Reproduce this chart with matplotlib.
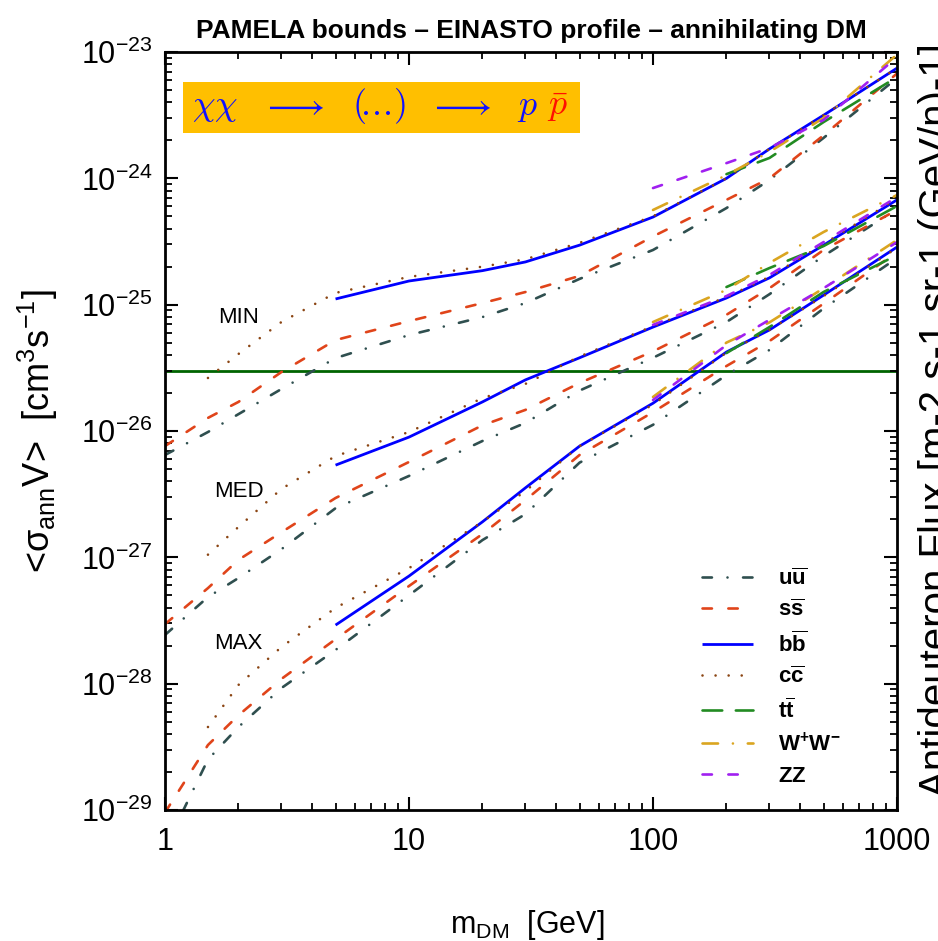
import numpy as np
import matplotlib
matplotlib.use('Agg')
import matplotlib.pyplot as plt
from matplotlib import ticker
from matplotlib.patches import Rectangle

plt.rcParams['font.family'] = ['Liberation Sans', 'DejaVu Sans']
plt.rcParams['mathtext.fontset'] = 'custom'
plt.rcParams['mathtext.rm'] = 'Liberation Sans'
plt.rcParams['mathtext.it'] = 'Liberation Sans:italic'
plt.rcParams['mathtext.bf'] = 'Liberation Sans:bold'
plt.rcParams['lines.scale_dashes'] = False

# DM masses [GeV]
light_masses = [1, 1.5, 2, 3, 5, 10, 20, 30, 50, 100, 200, 300, 500, 1000]
cc_masses = [1.5, 2, 3, 5, 10, 20, 30, 50, 100, 200, 300, 500, 1000]
bb_masses = [5, 10, 20, 30, 50, 100, 200, 300, 500, 1000]
gauge_masses = [100, 200, 300, 500, 1000]
tt_masses = [200, 300, 500, 1000]

# <sigma v> bounds [cm^3 s^-1], MIN / MED / MAX propagation
uu_min = [6.46e-27, 9.82e-27, 1.36e-26, 2.15e-26, 3.78e-26, 5.75e-26, 7.98e-26,
          1.03e-25, 1.60e-25, 2.71e-25, 5.82e-25, 9.70e-25, 2.09e-24, 6.22e-24]
uu_med = [2.43e-28, 4.85e-28, 6.86e-28, 1.16e-27, 2.45e-27, 4.41e-27, 8.34e-27,
          1.16e-26, 2.09e-26, 3.80e-26, 7.29e-26, 1.21e-25, 2.43e-25, 5.71e-25]
uu_max = [5.01e-30, 2.51e-29, 4.54e-29, 9.23e-29, 1.85e-28, 5.01e-28, 1.37e-27,
          2.20e-27, 5.62e-27, 1.12e-26, 2.77e-26, 4.38e-26, 9.33e-26, 2.34e-25]

ss_min = [7.60e-27, 1.27e-26, 1.70e-26, 2.93e-26, 5.25e-26, 7.41e-26, 1.03e-25,
          1.26e-25, 1.69e-25, 3.47e-25, 6.76e-25, 1.00e-24, 2.19e-24, 6.76e-24]
ss_med = [2.96e-28, 5.71e-28, 9.55e-28, 1.58e-27, 2.95e-27, 5.69e-27, 1.11e-26,
          1.47e-26, 2.40e-26, 4.27e-26, 8.32e-26, 1.35e-25, 2.71e-25, 5.62e-25]
ss_max = [9.55e-30, 3.27e-29, 5.62e-29, 1.09e-28, 2.25e-28, 5.93e-28, 1.53e-27,
          2.84e-27, 6.46e-27, 1.41e-26, 3.27e-26, 5.15e-26, 1.02e-25, 2.61e-25]

bb_min = [1.11e-25, 1.54e-25, 1.86e-25, 2.18e-25, 2.96e-25, 4.94e-25, 1.00e-24,
          1.71e-24, 3.16e-24, 7.46e-24]
bb_med = [5.37e-27, 8.95e-27, 1.70e-26, 2.54e-26, 3.80e-26, 6.65e-26, 1.13e-25,
          1.63e-25, 2.96e-25, 6.76e-25]
bb_max = [2.91e-28, 7.11e-28, 1.91e-27, 3.55e-27, 7.59e-27, 1.66e-26, 4.22e-26,
          6.31e-26, 1.19e-25, 2.86e-25]

cc_min = [2.63e-26, 4.07e-26, 7.29e-26, 1.24e-25, 1.66e-25, 2.00e-25, 2.29e-25,
          3.09e-25, 5.01e-25, 1.00e-24, 1.71e-24, 3.16e-24, 7.46e-24]
cc_med = [1.05e-27, 1.74e-27, 3.48e-27, 6.34e-27, 9.82e-27, 1.82e-26, 2.36e-26,
          3.89e-26, 6.76e-26, 1.15e-25, 1.66e-25, 3.02e-25, 6.92e-25]
cc_max = [4.54e-29, 9.77e-29, 1.95e-28, 3.98e-28, 8.22e-28, 1.91e-27, 3.35e-27,
          7.59e-27, 1.62e-26, 4.17e-26, 6.31e-26, 1.17e-25, 2.82e-25]

tt_min = [1.08e-24, 1.45e-24, 2.79e-24, 6.34e-24]
tt_med = [1.38e-25, 1.95e-25, 2.91e-25, 6.04e-25]
tt_max = [4.14e-26, 6.65e-26, 1.26e-25, 2.47e-25]

ww_min = [5.62e-25, 1.06e-24, 1.62e-24, 3.01e-24, 9.55e-24]
ww_med = [7.29e-26, 1.31e-25, 2.14e-25, 3.76e-25, 7.38e-25]
ww_max = [1.86e-26, 5.01e-26, 7.24e-26, 1.35e-25, 3.25e-25]

zz_min = [8.38e-25, 1.32e-24, 1.74e-24, 2.90e-24, 9.12e-24]
zz_med = [6.92e-26, 1.17e-25, 1.72e-25, 3.13e-25, 7.11e-25]
zz_max = [1.76e-26, 4.79e-26, 7.59e-26, 1.35e-25, 3.13e-25]

thermal_xsec = 3e-26
x_ticks = [1, 10, 100, 1000]

channels = [
    (r'$\mathbf{u\overline{u}}$', light_masses, [uu_min, uu_med, uu_max], '#2f4f4f', (0, (6.8, 11.2, 0.01, 11.2))),
    (r'$\mathbf{s\overline{s}}$', light_masses, [ss_min, ss_med, ss_max], '#e0441a', (0, (6.8, 11.8))),
    (r'$\mathbf{b\overline{b}}$', bb_masses, [bb_min, bb_med, bb_max], '#0000ff', '-'),
    (r'$\mathbf{c\overline{c}}$', cc_masses, [cc_min, cc_med, cc_max], '#8b4513', (0, (0.01, 9.4))),
    (r'$\mathbf{t\overline{t}}$', tt_masses, [tt_min, tt_med, tt_max], '#228b22', (0, (14.2, 9.8))),
    (r'$\mathbf{W^{+}W^{-}}$', gauge_masses, [ww_min, ww_med, ww_max], '#daa520', (0, (11.2, 10.7, 0.01, 10.7))),
    (r'$\mathbf{ZZ}$', gauge_masses, [zz_min, zz_med, zz_max], '#a020f0', (0, (6.8, 11.8))),
]

fig = plt.figure(figsize=(9.38, 9.41), dpi=100)
ax = fig.add_axes([0.1759, 0.1392, 0.7804, 0.8055])

ax.axhline(thermal_xsec, color='#006400', lw=2.0, zorder=1)

for label, masses, sets, color, ls in channels:
    for i, vals in enumerate(sets):
        ax.plot(masses, vals, color=color, linestyle=ls, lw=2.0 if ls == '-' else 1.9,
                dash_capstyle='round', solid_capstyle='butt',
                label=label if i == 0 else None, zorder=2)

ax.set_xscale('log')
ax.set_yscale('log')
ax.set_xlim(1, 1000)
ax.set_ylim(1e-29, 1e-23)

ax.xaxis.set_major_locator(ticker.FixedLocator(x_ticks))
ax.xaxis.set_major_formatter(ticker.FuncFormatter(lambda v, pos: '%g' % v))
ax.xaxis.set_minor_locator(ticker.LogLocator(base=10, subs=np.arange(2, 10), numticks=100))
ax.yaxis.set_minor_locator(ticker.LogLocator(base=10, subs=np.arange(2, 10), numticks=100))
ax.xaxis.set_minor_formatter(ticker.NullFormatter())
ax.yaxis.set_minor_formatter(ticker.NullFormatter())

ax.tick_params(which='both', direction='in', top=True, right=True, labelsize=22)
ax.tick_params(which='major', length=9.5, width=1.5)
ax.tick_params(which='minor', length=5, width=1.3)
ax.tick_params(axis='x', which='major', pad=12)
ax.tick_params(axis='y', which='major', pad=9)
for sp in ax.spines.values():
    sp.set_linewidth(2.0)

ax.set_title('PAMELA bounds – EINASTO profile – annihilating DM',
             fontsize=19, fontweight='bold', pad=10)
ax.set_xlabel(r'm$_{\rm DM}$  [GeV]', fontsize=22, va='center')
ax.xaxis.set_label_coords(0.4945, -0.152)
ax.set_ylabel(r'<σ$_{\rm ann}$V>  [cm$^3$s$^{-1}$]', fontsize=26, va='center')
ax.yaxis.set_label_coords(-0.1735, 0.50)

# propagation model labels
ax.text(2.0, 10**-25.1, 'MIN', fontsize=16, ha='center', va='center')
ax.text(2.0, 10**-26.48, 'MED', fontsize=16, ha='center', va='center')
ax.text(2.0, 10**-27.68, 'MAX', fontsize=16, ha='center', va='center')

# channel box
ax.add_patch(Rectangle((0.0246, 0.8931), 0.5424, 0.0673, transform=ax.transAxes,
                       facecolor='#ffbf00', edgecolor='none', zorder=3))
base_y = 0.9169
pieces = [(r'$\chi\chi$', 0.0369), (r'$\longrightarrow$', 0.1310), (r'$(\!.\!.\!.\!)$', 0.2555),
          (r'$\longrightarrow$', 0.3596), (r'$p$', 0.4809)]
for s, xp in pieces:
    ax.text(xp, base_y, s, transform=ax.transAxes, fontsize=26, color='#1010ff',
            math_fontfamily='cm', ha='left', va='baseline', zorder=4)
ax.text(0.5219, base_y, r'$\bar{p}$', transform=ax.transAxes, fontsize=26, color='#ff1000',
        math_fontfamily='cm', ha='left', va='baseline', zorder=4)

ax.legend(loc='upper left', bbox_to_anchor=(0.7336, 0.319), frameon=False,
          prop={'size': 16, 'weight': 'bold'}, handlelength=2.3, handletextpad=1.1,
          labelspacing=0.45, borderpad=0, borderaxespad=0)

# neighbouring panel label, cut by the figure edge
fig.text(0.9787, 0.5537, 'Antideuteron Flux [m-2 s-1 sr-1 (GeV/n)-1]', rotation=90,
         fontsize=29, ha='left', va='center')

fig.savefig('out.png', dpi=100)
